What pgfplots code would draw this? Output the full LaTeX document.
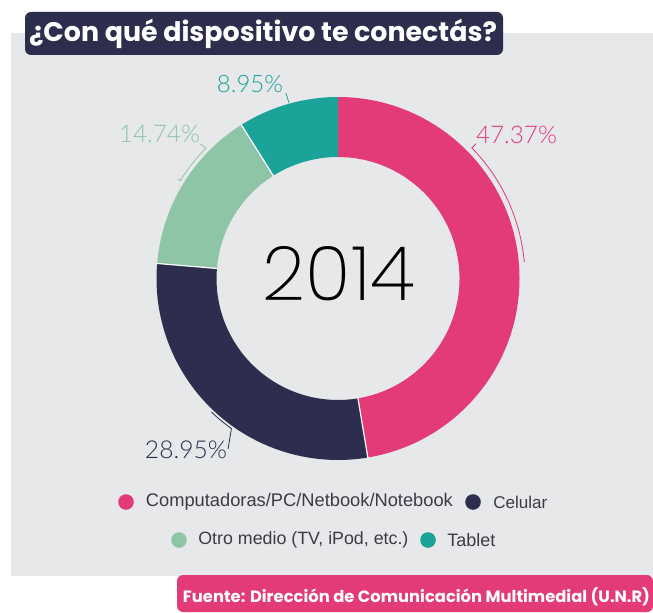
\documentclass[border=0pt]{standalone}
\usepackage{pgfplots}
\pgfplotsset{compat=1.18}
\usepackage{pgfplotstable}
\usepackage{graphicx}
\usepackage{fontspec}
\setmainfont{Liberation Sans}
\newfontfamily\titlefont{Poppins}
\newfontfamily\thinfont{Poppins ExtraLight}
\newfontfamily\lightfont{Lato Light}
\definecolor{cpink}{HTML}{E23B77}
\definecolor{cnavy}{HTML}{2D2E4D}
\definecolor{cgreen}{HTML}{8EC5A6}
\definecolor{cteal}{HTML}{1BA39A}
\definecolor{cbg}{HTML}{E7E8EA}
\definecolor{ctext}{HTML}{3B3B48}

\pgfplotstableread{
label value color
Computadoras 47.37 cpink
Celular 28.95 cnavy
Otro 14.74 cgreen
Tablet 8.95 cteal
}\datatable

\begin{document}
\begin{tikzpicture}
\begin{axis}[hide axis, x=0.5pt, y=0.5pt, xmin=0, xmax=653, ymin=0, ymax=612,
  scale only axis, clip=false, anchor=origin, at={(0,0)}]
\pgfplotsextra{
  % background panel
  \fill[white] (axis cs:0,0) rectangle (axis cs:653,612);
  \fill[cbg] (axis cs:11,36) rectangle (axis cs:653,579);
  % donut slices from table
  \pgfplotstablegetrowsof{\datatable}
  \pgfmathtruncatemacro{\lastrow}{\pgfplotsretval-1}
  \gdef\cum{0}
  \begin{scope}[shift={(axis cs:338,333.5)}]
  \foreach \i in {0,...,\lastrow}{
    \pgfplotstablegetelem{\i}{value}\of\datatable
    \let\val\pgfplotsretval
    \pgfplotstablegetelem{\i}{color}\of\datatable
    \let\col\pgfplotsretval
    \pgfmathsetmacro{\angA}{90-3.6*\cum}
    \pgfmathsetmacro{\angB}{90-3.6*(\cum+\val)}
    \fill[\col] (\angA:90.75pt) arc[start angle=\angA, end angle=\angB, radius=90.75pt]
      -- (\angB:60.75pt) arc[start angle=\angB, end angle=\angA, radius=60.75pt] -- cycle;
    \pgfmathsetmacro{\newcum}{\cum+\val}
    \xdef\cum{\newcum}
  }
  \gdef\cum{0}
  \foreach \i in {0,...,\lastrow}{
    \pgfplotstablegetelem{\i}{value}\of\datatable
    \let\val\pgfplotsretval
    \pgfmathsetmacro{\angA}{90-3.6*\cum}
    \ifnum\i>0
      \draw[white, line width=0.6pt] (\angA:60.5pt) -- (\angA:91pt);
    \fi
    \pgfmathsetmacro{\newcum}{\cum+\val}
    \xdef\cum{\newcum}
  }
  % leader lines
  \draw[cpink, line width=0.4pt] (44.3:96.5pt) -- (44.3:93.5pt) arc[start angle=44.3, end angle=5, radius=93.5pt];
  \draw[cnavy, line width=0.4pt] (226.5:92pt) arc[start angle=226.5, end angle=234.6, radius=92pt] -- (237.2:101.5pt);
  \draw[cgreen, line width=0.4pt] (135.7:96.3pt) -- (135.3:92.8pt) arc[start angle=135.3, end angle=148.2, radius=92.8pt] -- (148.2:94.3pt);
  \draw[cteal, line width=0.4pt] (105.7:96.3pt) -- (105.6:91.1pt);
  \end{scope}
  % percentage labels
  \node[text=cpink] at (axis cs:516.5,477) {\resizebox{40.5pt}{!}{\lightfont 47.37\%}};
  \node[text=cteal] at (axis cs:250,528) {\resizebox{33pt}{!}{\lightfont 8.95\%}};
  \node[text=cgreen] at (axis cs:159.5,478) {\resizebox{40.5pt}{!}{\lightfont 14.74\%}};
  \node[text=cnavy] at (axis cs:186,162) {\resizebox{41pt}{!}{\lightfont 28.95\%}};
  % center year
  \node[text=black] at (axis cs:339,338) {\resizebox{76pt}{!}{\thinfont 2014}};
  % title
  \fill[cnavy, rounded corners=3pt] (axis cs:25,557) rectangle (axis cs:503,600);
  \node[text=white, inner sep=0pt] at (axis cs:263,578.5) {\resizebox{234pt}{!}{\titlefont\bfseries ¿Con qué dispositivo te conectás?}};
  % footer
  \fill[cpink, rounded corners=3pt] (axis cs:177,0) rectangle (axis cs:653,37);
  \node[text=white, inner sep=0pt] at (axis cs:416.5,15) {\resizebox{233.5pt}{!}{\titlefont\bfseries Fuente: Dirección de Comunicación Multimedial (U.N.R)}};
  % legend
  \fill[cpink] (axis cs:126,110) circle[radius=3.9pt];
  \node[anchor=west, inner sep=0pt, text=ctext] at (axis cs:145.5,110) {\resizebox{153.5pt}{!}{Computadoras/PC/Netbook/Notebook}};
  \fill[cnavy] (axis cs:473,110) circle[radius=3.9pt];
  \node[anchor=west, inner sep=0pt, text=ctext] at (axis cs:493,110) {\resizebox{27pt}{!}{Celular}};
  \fill[cgreen] (axis cs:179,72) circle[radius=3.9pt];
  \node[anchor=west, inner sep=0pt, text=ctext] at (axis cs:198,72) {\resizebox{105pt}{!}{Otro medio (TV, iPod, etc.)}};
  \fill[cteal] (axis cs:428,72) circle[radius=3.9pt];
  \node[anchor=west, inner sep=0pt, text=ctext] at (axis cs:447,72) {\resizebox{24pt}{!}{Tablet}};
}
\end{axis}
\end{tikzpicture}
\end{document}
